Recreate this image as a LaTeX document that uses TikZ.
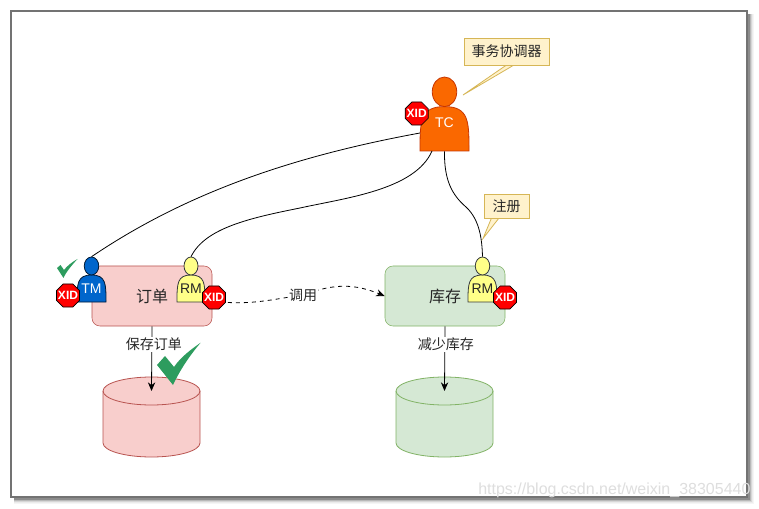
\documentclass[tikz,border=0pt]{standalone}
\usepackage{fontspec}
\setmainfont{Liberation Sans}
\newfontfamily\cjk{Noto Sans CJK SC}
\usetikzlibrary{shapes.geometric,arrows.meta,calc}
\definecolor{redfill}{HTML}{F8CECC}
\definecolor{redline}{HTML}{B85450}
\definecolor{greenfill}{HTML}{D5E8D4}
\definecolor{greenline}{HTML}{82B366}
\definecolor{notefill}{HTML}{FFF2CC}
\definecolor{noteline}{HTML}{D6B656}
\definecolor{tcfill}{HTML}{FA6800}
\definecolor{tcline}{HTML}{C73500}
\definecolor{tmfill}{HTML}{0066CC}
\definecolor{tmline}{HTML}{001933}
\definecolor{rmfill}{HTML}{FFFF88}
\definecolor{rmline}{HTML}{36393D}
\definecolor{checkgreen}{HTML}{2D9C5E}
\newcommand{\xidtext}{\makebox[0pt][c]{XID}}
\tikzset{
  px/.style={x=.75pt,y=-.75pt},
  service/.style={draw=#1,rounded corners=6pt,minimum width=90pt,minimum height=45pt,inner sep=0pt,font=\cjk\fontsize{12}{14}\selectfont,text=black!85},
  xidstop/.style={regular polygon,regular polygon sides=8,draw=black,fill=red,minimum size=18.7pt,inner sep=0pt,line width=.5pt,text=white,font=\bfseries\fontsize{9}{10}\selectfont},
  notebox/.style={draw=noteline,fill=notefill,line width=.6pt,inner sep=0pt,font=\cjk\fontsize{10.5}{12}\selectfont,text=black!85},
  edgelabel/.style={fill=white,inner sep=1pt,font=\cjk\fontsize{10.5}{12}\selectfont,text=black!85},
  link/.style={draw=black,line width=.6pt},
  flow/.style={draw=black,line width=.6pt,-{Stealth[length=6.5pt,width=5.5pt]}},
  actorbox/.style={inner sep=0pt,font=\fontsize{10.5}{12}\selectfont},
  dbshape/.style={line width=.6pt},
  check/.style={fill=checkgreen,draw=none}
}
% name, left, top, width, height, fill, line, label colour, label y
\newcommand{\actorfig}[9]{%
  \def\ax{#2}\def\ay{#3}\def\aw{#4}\def\ah{#5}%
  \pgfmathsetmacro\axm{\ax+.5*\aw}\pgfmathsetmacro\axr{\ax+\aw}%
  \pgfmathsetmacro\ayb{\ay+\ah}\pgfmathsetmacro\ays{\ay+.4*\ah}\pgfmathsetmacro\ayq{\ay+.6*\ah}%
  \pgfmathsetmacro\ayh{\ay+.2*\ah}\pgfmathsetmacro\arx{.25*\aw}\pgfmathsetmacro\ary{.2*\ah}%
  \pgfmathsetmacro\aym{\ay+.5*\ah}%
  \path[fill=#6,draw=#7,line width=.6pt] (\ax,\ayb) .. controls (\ax,\ayq) and (\ax,\ays) .. (\axm,\ays)
     .. controls (\axr,\ays) and (\axr,\ayq) .. (\axr,\ayb) -- cycle;
  \path[fill=#6,draw=#7,line width=.6pt] (\axm,\ayh) ellipse [x radius=\arx,y radius=\ary];
  \pgfmathsetmacro\awpt{.75*\aw}\pgfmathsetmacro\ahpt{.75*\ah}%
  \node[actorbox,minimum width=\awpt pt,minimum height=\ahpt pt] (#1) at (\axm,\aym) {};
  \node[actorbox,text=#8] (#1-label) at (\axm,#9) {\actorlabel};
}
\newcommand{\dbfig}[5]{% name, left, top, fill, line
  \pgfmathsetmacro\dxr{#2+97}\pgfmathsetmacro\dxm{#2+48.5}\pgfmathsetmacro\dyt{#3+14}\pgfmathsetmacro\dyb{#3+66}%
  \path[fill=#4,draw=#5,dbshape] (#2,\dyt) arc[start angle=180,end angle=360,x radius=48.5,y radius=14]
    -- (\dxr,\dyb) arc[start angle=0,end angle=180,x radius=48.5,y radius=14] -- cycle;
  \path[draw=#5,dbshape] (#2,\dyt) arc[start angle=180,end angle=0,x radius=48.5,y radius=14];
  \coordinate (#1) at (\dxm,\dyt);
}
\begin{document}
\begin{tikzpicture}[px]
\useasboundingbox (0,0) rectangle (759,509);
\fill[white] (0,0) rectangle (759,509);
% page frame with soft shadow
\foreach \o/\g in {7/4,6/8,5/16,4/28,3/45}{
  \fill[black!\g] (14,14) rectangle (747+\o,497+\o);
}
\path[fill=white,draw=black!55,line width=.9pt] (11,11) rectangle (747,497);

% services
\node[service=redline,fill=redfill] (order) at (152,296) {订单};
\node[service=greenline,fill=greenfill] (stock) at (445,296) {库存};

% databases
\dbfig{dbA}{103}{377}{redfill}{redline}
\dbfig{dbB}{396}{377}{greenfill}{greenline}

% actors
\def\actorlabel{TC}
\actorfig{tc}{420}{77}{49}{74}{tcfill}{tcline}{white}{123}
\def\actorlabel{TM}
\actorfig{tm}{77}{257}{29}{45}{tmfill}{tmline}{white}{289}
\def\actorlabel{RM}
\actorfig{rmA}{177}{257}{28}{45}{rmfill}{rmline}{black!85}{289}
\actorfig{rmB}{468}{257}{29}{45}{rmfill}{rmline}{black!85}{289}

% transaction id stops
\node[xidstop] (xidC) at (416.7,113.5) {\xidtext};
\node[xidstop] (xidT) at (68,295.5) {\xidtext};
\node[xidstop] (xidA) at (214,297.5) {\xidtext};
\node[xidstop] (xidB) at (505,297.5) {\xidtext};

% connectors
\coordinate (tcL) at (420,133);
\coordinate (tcB) at (432,151);
\path[link] (tcL) .. controls (300,155) and (190,190) .. (tm.north);
\path[link] (tcB) .. controls (415,190) and (345,198) .. (300,208)
   .. controls (250,218) and (205,228) .. (rmA.north);
\path[link] (tc.south) .. controls (444,180) and (452,195) .. (466,207)
   .. controls (480,220) and (482,240) .. (rmB.north);
\coordinate (dashS) at ($(xidA.east)+(2,5)$);
\coordinate (dashM) at (303,295);
\path[flow,dashed] (dashS) .. controls (255,304) and (275,299) .. (dashM)
   .. controls (335,283) and (355,284) .. (stock.west);
\node[edgelabel] (callLabel) at (dashM) {调用};
\path[flow] (order.south) -- (dbA) node[edgelabel,pos=.28,xshift=1.5pt] (saveLabel) {保存订单};
\path[flow] (stock.south) -- (dbB) node[edgelabel,pos=.28,xshift=.75pt] (lessLabel) {减少库存};

% check marks
\path[check] (200.7,342.7) .. controls (190,350) and (180,358) .. (174,367) -- (165,356) -- (157,365) -- (173,385)
  .. controls (180,370) and (190,355) .. cycle;
\path[check] (77.5,259) .. controls (72,262) and (67,266) .. (64,270) -- (60.5,265) -- (57,268) -- (63.5,278)
  .. controls (66,272) and (72,265) .. cycle;

% notes
\path[draw=noteline,fill=notefill,line width=.6pt] (506.5,65) -- (463,95) -- (514,65);
\node[notebox,minimum width=63.75pt,minimum height=20.25pt] (noteTC) at (506.5,51.5) {事务协调器};
\path[draw=noteline,fill=notefill,line width=.6pt] (491.5,218) -- (483,238.5) -- (499,218);
\node[notebox,minimum width=33.75pt,minimum height=18pt] (noteReg) at (506.5,206) {注册};

% watermark
\node[text=black!13,inner sep=0pt,anchor=west,font=\fontsize{12}{14}\selectfont] (mark) at (478,490.5) {https://blog.csdn.net/weixin\_38305440};
\end{tikzpicture}
\end{document}
